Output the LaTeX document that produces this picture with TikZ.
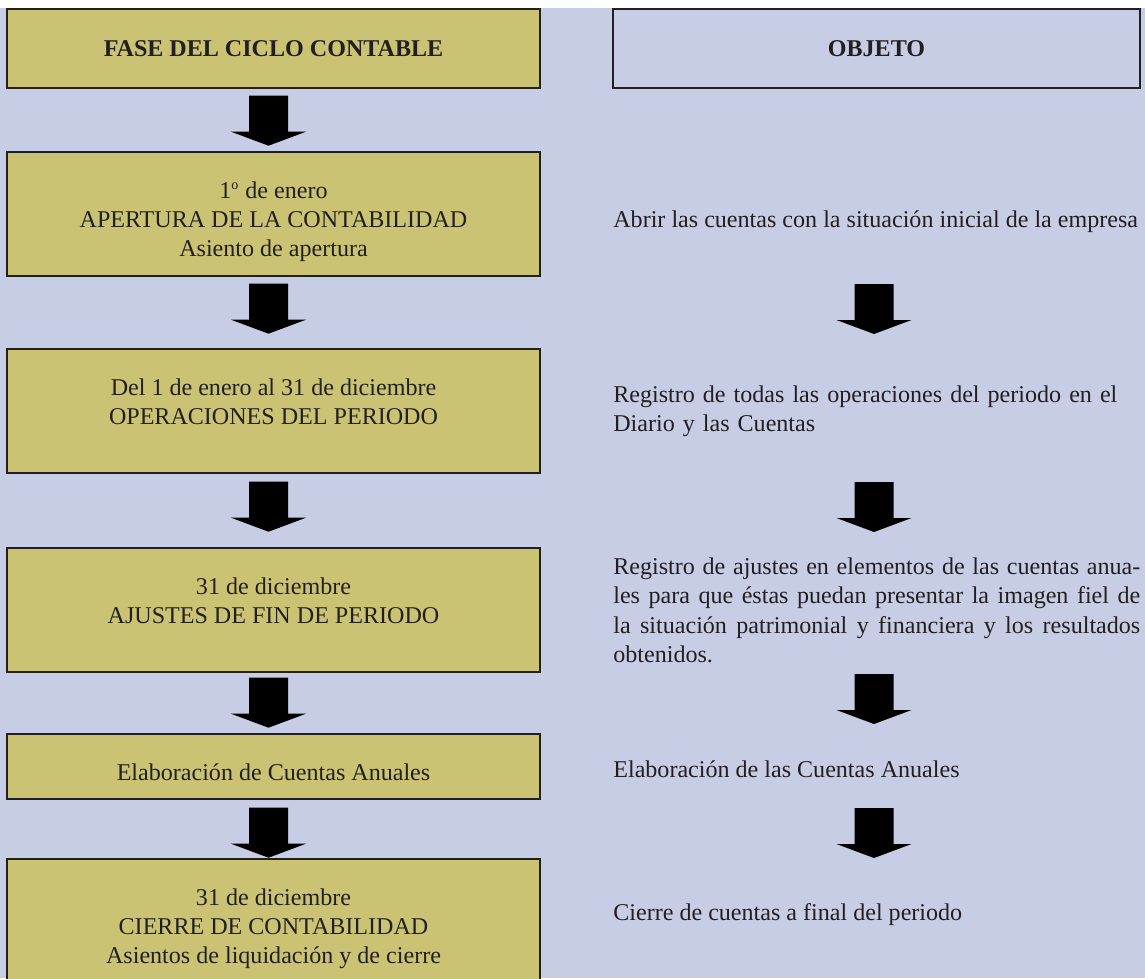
\documentclass[tikz,border=0pt]{standalone}
\usepackage{fontspec}
\setmainfont{Liberation Serif}
\usetikzlibrary{positioning, calc}

\definecolor{oliva}{RGB}{203,195,116}
\definecolor{lavanda}{RGB}{200,205,230}
\definecolor{borde}{RGB}{35,31,32}

\tikzset{
  caja/.style={draw=borde, line width=0.8pt, fill=oliva, minimum width=10.66cm, inner sep=0pt},
  cajaobj/.style={draw=borde, line width=0.8pt, minimum width=10.54cm, minimum height=1.58cm, inner sep=0pt},
  rotulo/.style={anchor=base, align=center, inner sep=0pt, font=\fontsize{13.7pt}{16.5pt}\selectfont},
  texto/.style={anchor=north west, inner sep=0pt, text width=10.54cm},
  linea/.style={anchor=base west, inner sep=0pt},
}

% flecha de bloque hacia abajo, #1 = punto medio del borde superior
\newcommand{\flecha}[1]{\fill[black] ($(#1)+(-19.5,0)$) -- ++(39,0) -- ++(0,36) -- ++(18,0) -- ++(-37.5,14) -- ++(-37.5,-14) -- ++(18,0) -- cycle;}

\begin{document}
\begin{tikzpicture}[x=0.02cm, y=-0.02cm, every node/.append style={font=\fontsize{13.7pt}{16.8pt}\selectfont, text=borde}]
\useasboundingbox (0,0) rectangle (1145,978);
\clip (0,0) rectangle (1145,978);
\fill[lavanda] (0,8) rectangle (1145,978);

% columna izquierda
\node[caja, minimum height=1.58cm] (fase) at (273.5,48.5) {};
\node[caja, minimum height=2.48cm] (apertura) at (273.5,214) {};
\node[caja, minimum height=2.48cm] (operaciones) at (273.5,411) {};
\node[caja, minimum height=2.48cm] (ajustes) at (273.5,610) {};
\node[caja, minimum height=1.3cm] (elaboracion) at (273.5,766.5) {};
\node[caja, minimum height=2.62cm] (cierre) at (273.5,924.5) {};

% rotulos: la ultima linea de base queda a 47.5 + 29 por linea extra del borde superior
\node[rotulo] (fase-txt) at ($(fase.north)+(0,48)$) {\textbf{FASE DEL CICLO CONTABLE}};
\node[rotulo] (apertura-txt) at ($(apertura.north)+(0,105.5)$) {1\textsuperscript{\fontsize{8pt}{8pt}\selectfont o} de enero\\APERTURA DE LA CONTABILIDAD\\Asiento de apertura};
\node[rotulo] (operaciones-txt) at ($(operaciones.north)+(0,76.5)$) {Del 1 de enero al 31 de diciembre\\OPERACIONES DEL PERIODO};
\node[rotulo] (ajustes-txt) at ($(ajustes.north)+(0,76.5)$) {31 de diciembre\\AJUSTES DE FIN DE PERIODO};
\node[rotulo] (elaboracion-txt) at ($(elaboracion.north)+(0,47.5)$) {Elaboración de Cuentas Anuales};
\node[rotulo] (cierre-txt) at ($(cierre.north)+(0,105.5)$) {31 de diciembre\\CIERRE DE CONTABILIDAD\\Asientos de liquidación y de cierre};

% columna derecha
\node[cajaobj] (objeto) at (876.5,48.5) {};
\node[rotulo] (objeto-txt) at ($(objeto.north)+(0,48)$) {\textbf{OBJETO}};
\node[linea] (obj-apertura) at (613,227) {Abrir las cuentas con la situación inicial de la empresa};
\node[texto, align=left] (obj-operaciones) at (613,385) {Registro de todas las operaciones del periodo en el\\Diario y las Cuentas};
\node[texto, align=justify] (obj-ajustes) at (613,557) {Registro de ajustes en elementos de las cuentas anua-\linebreak les para que éstas puedan presentar la imagen fiel de\linebreak la situación patrimonial y financiera y los resultados\linebreak obtenidos.};
\node[linea] (obj-elaboracion) at (613,777) {Elaboración de las Cuentas Anuales};
\node[linea] (obj-cierre) at (613,920) {Cierre de cuentas a final del periodo};

% flechas
\coordinate (f1) at ($(fase.south)+(-5,7)$);
\coordinate (f2) at ($(apertura.south)+(-5,7)$);
\coordinate (f3) at ($(operaciones.south)+(-5,8)$);
\coordinate (f4) at ($(ajustes.south)+(-5,5)$);
\coordinate (f5) at ($(elaboracion.south)+(-5,8)$);
\coordinate (g1) at (874,284);
\coordinate (g2) at (874,482);
\coordinate (g3) at (874,674);
\coordinate (g4) at (874,808);
\foreach \f in {f1,f2,f3,f4,f5,g1,g2,g3,g4}
  {\flecha{\f}}
\end{tikzpicture}
\end{document}
